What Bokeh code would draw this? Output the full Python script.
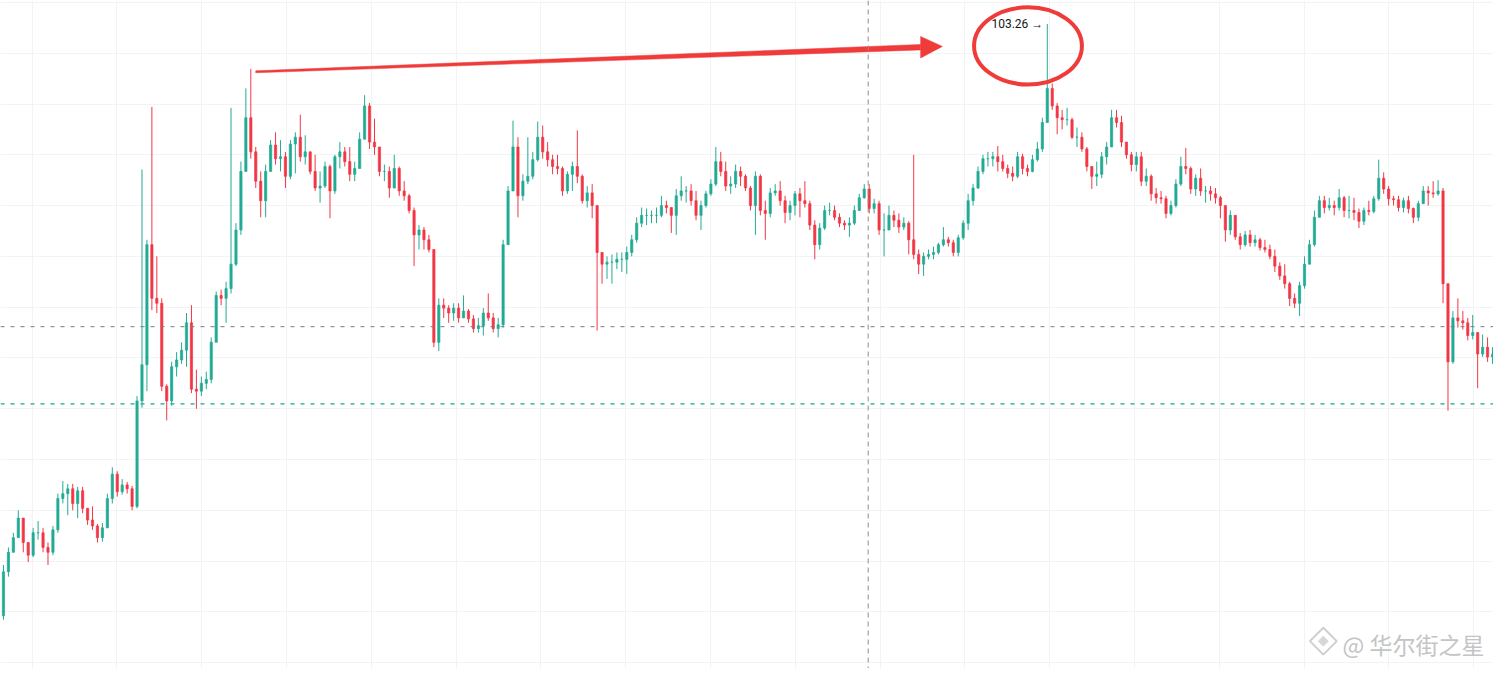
import numpy as np
from bokeh.plotting import figure
from bokeh.models import Range1d, Span, Label, Grid, FixedTicker, SingleIntervalTicker, ColumnDataSource
from bokeh.embed import file_html
from bokeh.resources import INLINE

# ---------------- data (prices) ----------------
first_open = 97.20

close = [
    97.65, 97.85, 98.00, 98.20, 97.95, 97.82, 98.05, 98.05, 97.90, 97.85,
    98.08, 98.40, 98.45, 98.50, 98.35, 98.48, 98.30, 98.18, 98.12, 98.00,
    98.10, 98.40, 98.65, 98.47, 98.54, 98.50, 98.32, 99.40, 99.77, 101.00,
    100.45, 100.40, 99.55, 99.40, 99.75, 99.82, 99.92, 100.20, 99.52, 99.50,
    99.58, 99.62, 100.00, 100.48, 100.45, 100.55, 100.80, 101.15, 101.75, 102.30,
    101.95, 101.65, 101.45, 101.75, 102.02, 101.88, 101.90, 101.70, 102.03, 102.10,
    101.90, 101.95, 101.75, 101.58, 101.60, 101.80, 101.55, 101.90, 101.95, 101.85,
    101.72, 101.78, 102.08, 102.42, 102.05, 102.00, 101.75, 101.75, 101.58, 101.78,
    101.55, 101.50, 101.35, 101.10, 101.15, 101.05, 100.95, 100.00, 100.38, 100.35,
    100.30, 100.35, 100.25, 100.32, 100.24, 100.14, 100.17, 100.30, 100.25, 100.14,
    100.18, 101.00, 101.55, 102.00, 101.50, 101.65, 101.70, 101.87, 102.10, 101.95,
    101.87, 101.80, 101.78, 101.55, 101.72, 101.80, 101.70, 101.45, 101.53, 101.40,
    100.92, 100.80, 100.82, 100.82, 100.85, 100.85, 100.92, 101.05, 101.22, 101.30,
    101.30, 101.30, 101.30, 101.40, 101.38, 101.30, 101.50, 101.55, 101.55, 101.45,
    101.30, 101.40, 101.52, 101.62, 101.85, 101.75, 101.60, 101.62, 101.75, 101.70,
    101.58, 101.40, 101.70, 101.35, 101.32, 101.53, 101.55, 101.45, 101.33, 101.40,
    101.52, 101.45, 101.42, 101.20, 101.00, 101.17, 101.35, 101.35, 101.28, 101.22,
    101.20, 101.22, 101.35, 101.48, 101.57, 101.37, 101.42, 101.15, 101.15, 101.30,
    101.25, 101.18, 101.22, 101.05, 100.90, 100.80, 100.88, 100.90, 100.92, 101.00,
    101.05, 101.02, 100.92, 101.07, 101.22, 101.45, 101.58, 101.75, 101.88, 101.88,
    101.90, 101.85, 101.78, 101.73, 101.70, 101.90, 101.78, 101.75, 101.87, 101.98,
    102.25, 102.60, 102.42, 102.30, 102.28, 102.28, 102.10, 102.10, 101.98, 101.80,
    101.70, 101.72, 101.90, 102.00, 102.30, 102.25, 102.05, 101.92, 101.82, 101.90,
    101.65, 101.70, 101.52, 101.48, 101.47, 101.32, 101.40, 101.62, 101.80, 101.78,
    101.57, 101.68, 101.55, 101.55, 101.52, 101.48, 101.40, 101.15, 101.30, 101.08,
    101.00, 101.10, 101.02, 101.05, 100.97, 100.95, 100.88, 100.78, 100.68, 100.60,
    100.45, 100.40, 100.58, 100.80, 101.00, 101.28, 101.45, 101.38, 101.40, 101.38,
    101.48, 101.35, 101.35, 101.33, 101.24, 101.35, 101.34, 101.47, 101.68, 101.57,
    101.47, 101.46, 101.38, 101.45, 101.37, 101.28, 101.42, 101.55, 101.53, 101.52,
    101.55, 100.60, 99.80, 100.25, 100.22, 100.20, 100.07, 100.10, 99.88, 99.95,
    99.85, 99.88,
]

high = [
    97.72, 97.90, 98.05, 98.28, 98.18, 97.95, 98.10, 98.17, 98.10, 97.95,
    98.12, 98.45, 98.58, 98.55, 98.55, 98.52, 98.52, 98.30, 98.32, 98.14,
    98.15, 98.45, 98.72, 98.68, 98.60, 98.57, 98.53, 99.45, 101.77, 101.05,
    102.41, 100.88, 100.45, 99.57, 99.80, 99.90, 100.00, 100.30, 100.38, 99.72,
    99.65, 99.70, 100.05, 100.52, 100.54, 100.62, 102.40, 101.22, 101.85, 102.60,
    102.80, 102.00, 101.75, 101.82, 102.07, 102.15, 102.07, 101.95, 102.07, 102.15,
    102.33, 102.12, 101.95, 101.92, 101.75, 101.85, 101.82, 101.92, 102.05, 102.00,
    102.00, 101.85, 102.15, 102.53, 102.45, 102.29, 102.00, 101.82, 101.80, 101.92,
    101.80, 101.65, 101.52, 101.38, 101.20, 101.18, 101.10, 100.95, 100.45, 100.45,
    100.38, 100.40, 100.40, 100.48, 100.34, 100.28, 100.25, 100.35, 100.50, 100.30,
    100.25, 101.05, 101.60, 102.27, 102.10, 101.72, 102.10, 101.95, 102.26, 102.22,
    102.05, 101.92, 101.92, 101.80, 101.75, 101.85, 102.17, 101.72, 101.60, 101.62,
    101.40, 100.85, 100.88, 100.90, 100.92, 100.92, 100.98, 101.10, 101.28, 101.38,
    101.37, 101.35, 101.38, 101.50, 101.45, 101.38, 101.57, 101.70, 101.60, 101.62,
    101.55, 101.45, 101.55, 101.67, 102.00, 101.95, 101.85, 101.70, 101.82, 101.80,
    101.72, 101.60, 101.75, 101.72, 101.45, 101.58, 101.62, 101.65, 101.50, 101.45,
    101.55, 101.58, 101.65, 101.45, 101.25, 101.22, 101.40, 101.43, 101.40, 101.32,
    101.25, 101.28, 101.40, 101.52, 101.62, 101.62, 101.47, 101.45, 101.32, 101.40,
    101.35, 101.32, 101.28, 101.24, 101.92, 100.95, 100.92, 100.95, 100.98, 101.02,
    101.18, 101.08, 101.05, 101.10, 101.25, 101.52, 101.62, 101.80, 101.92, 101.95,
    101.95, 102.01, 101.92, 101.82, 101.80, 101.95, 101.93, 101.82, 101.92, 102.05,
    102.30, 103.26, 102.65, 102.45, 102.38, 102.40, 102.30, 102.20, 102.15, 102.00,
    101.80, 101.85, 101.95, 102.05, 102.38, 102.38, 102.32, 102.05, 101.95, 101.95,
    101.95, 101.78, 101.72, 101.58, 101.55, 101.50, 101.45, 101.67, 101.90, 101.99,
    101.80, 101.72, 101.78, 101.60, 101.60, 101.58, 101.50, 101.40, 101.35, 101.30,
    101.12, 101.14, 101.15, 101.10, 101.07, 101.05, 101.00, 100.95, 100.82, 100.80,
    100.62, 100.50, 100.62, 100.88, 101.05, 101.35, 101.50, 101.50, 101.48, 101.45,
    101.57, 101.50, 101.50, 101.48, 101.37, 101.38, 101.45, 101.50, 101.87, 101.74,
    101.60, 101.50, 101.50, 101.48, 101.50, 101.38, 101.45, 101.60, 101.60, 101.65,
    101.66, 101.58, 100.60, 100.32, 100.45, 100.32, 100.25, 100.28, 100.10, 100.08,
    100.05, 99.95,
]

low = [
    97.16, 97.60, 97.85, 98.00, 97.85, 97.75, 97.80, 97.98, 97.85, 97.72,
    97.82, 98.05, 98.35, 98.23, 98.28, 98.20, 98.25, 98.13, 98.08, 97.95,
    97.96, 98.10, 98.35, 98.42, 98.44, 98.45, 98.28, 98.30, 99.33, 99.50,
    100.33, 100.30, 99.50, 99.20, 99.35, 99.65, 99.78, 99.75, 99.48, 99.32,
    99.45, 99.52, 99.58, 100.00, 100.38, 100.20, 100.50, 100.78, 101.10, 101.78,
    101.88, 101.58, 101.28, 101.28, 101.75, 101.82, 101.75, 101.58, 101.67, 101.73,
    101.85, 101.82, 101.72, 101.55, 101.43, 101.58, 101.27, 101.52, 101.78, 101.80,
    101.65, 101.65, 101.80, 102.10, 101.98, 101.92, 101.70, 101.65, 101.48, 101.58,
    101.50, 101.45, 101.32, 100.78, 100.95, 100.95, 100.92, 99.95, 99.91, 100.25,
    100.20, 100.22, 100.20, 100.25, 100.20, 100.10, 100.10, 100.07, 100.22, 100.10,
    100.05, 100.15, 101.00, 101.55, 101.28, 101.45, 101.62, 101.67, 101.85, 101.88,
    101.80, 101.72, 101.72, 101.50, 101.52, 101.55, 101.63, 101.42, 101.38, 101.27,
    100.12, 100.60, 100.65, 100.60, 100.75, 100.72, 100.70, 100.88, 101.02, 101.18,
    101.20, 101.22, 101.22, 101.28, 101.32, 101.12, 101.10, 101.45, 101.43, 101.40,
    101.25, 101.15, 101.38, 101.50, 101.60, 101.70, 101.55, 101.52, 101.58, 101.60,
    101.55, 101.35, 101.10, 101.30, 101.05, 101.28, 101.50, 101.40, 101.22, 101.25,
    101.30, 101.28, 101.38, 101.15, 100.85, 100.95, 101.15, 101.30, 101.25, 101.18,
    101.15, 101.08, 101.20, 101.35, 101.47, 101.32, 101.32, 101.10, 100.88, 101.15,
    101.18, 101.12, 101.15, 100.90, 100.85, 100.70, 100.68, 100.85, 100.85, 100.90,
    100.98, 100.98, 100.88, 100.88, 101.05, 101.15, 101.40, 101.57, 101.72, 101.80,
    101.80, 101.75, 101.75, 101.68, 101.65, 101.68, 101.72, 101.70, 101.74, 101.85,
    101.95, 102.25, 102.38, 102.13, 102.18, 102.22, 102.08, 102.00, 101.95, 101.75,
    101.57, 101.60, 101.68, 101.82, 102.02, 102.20, 102.00, 101.88, 101.75, 101.75,
    101.60, 101.60, 101.45, 101.42, 101.42, 101.27, 101.30, 101.38, 101.60, 101.72,
    101.52, 101.50, 101.50, 101.43, 101.45, 101.42, 101.27, 101.03, 101.10, 101.05,
    100.95, 100.98, 100.98, 100.98, 100.94, 100.92, 100.85, 100.72, 100.64, 100.55,
    100.37, 100.35, 100.27, 100.55, 100.82, 100.98, 101.28, 101.32, 101.35, 101.30,
    101.35, 101.28, 101.27, 101.25, 101.17, 101.20, 101.30, 101.32, 101.45, 101.52,
    101.40, 101.40, 101.34, 101.33, 101.32, 101.22, 101.24, 101.45, 101.40, 101.48,
    101.50, 100.40, 99.30, 99.78, 100.15, 100.13, 100.02, 100.03, 99.53, 99.85,
    99.80, 99.78,
]

level_upper = 100.16      # grey dashed horizontal line
level_lower = 99.37       # green dashed horizontal line
cursor_bar = 174.8        # vertical dashed cursor line (bar index)
arrow_from = (51.0, 102.77)
arrow_to = (189.8, 103.03)
ring_center = (207.1, 103.035)

# ---------------- styling ----------------
GREEN = "#22ab94"
RED = "#f23645"
MARK = "#f03b3b"
GRID = "#f2f3f5"

c = np.array(close)
o = np.concatenate([[first_open], c[:-1]])
h = np.maximum(np.array(high), np.maximum(o, c))
l = np.minimum(np.array(low), np.minimum(o, c))
xi = np.arange(len(c))
col = np.where(c >= o, GREEN, RED)
src = ColumnDataSource(dict(x=xi, h=h, l=l, top=np.maximum(o, c), bot=np.minimum(o, c), col=col))

p = figure(width=1493, height=668, x_range=Range1d(-0.6, 301.2), y_range=Range1d(96.66, 103.50),
           output_backend="svg", toolbar_location=None, x_axis_location=None, y_axis_location=None,
           min_border=0, background_fill_color="white", border_fill_color="white")
p.outline_line_color = None
p.grid.visible = False
p.add_layout(Grid(dimension=0, ticker=FixedTicker(ticks=[5.8 + 17.14 * j for j in range(18)]),
                  grid_line_color=GRID, grid_line_width=1), "center")
p.add_layout(Grid(dimension=1, ticker=SingleIntervalTicker(interval=0.52),
                  grid_line_color=GRID, grid_line_width=1), "center")

# reference lines
p.add_layout(Span(location=level_upper, dimension="width", line_color="#787b86", line_dash="4 6", line_width=1))
p.add_layout(Span(location=level_lower, dimension="width", line_color="#14a88c", line_dash="4 6", line_width=1.4))
p.add_layout(Span(location=cursor_bar, dimension="height", line_color="#8a8d96", line_dash="5 4", line_width=1))

# candles
p.segment(x0="x", y0="h", x1="x", y1="l", source=src, line_color="col", line_width=1)
p.vbar(x="x", width=0.45, top="top", bottom="bot", source=src, fill_color="col", line_color="col", line_width=0.7)

# red arrow annotation (tapered shaft + head)
x0, y0 = arrow_from
x1, y1 = arrow_to
head_len = 4.4
xb = x1 - head_len
yb = y0 + (y1 - y0) * (xb - x0) / (x1 - x0)
p.patch([x0, xb, xb, x0], [y0 - 0.01, yb - 0.028, yb + 0.028, y0 + 0.01], fill_color=MARK, line_color=MARK, line_width=0.5)
p.patch([xb, x1, xb], [yb - 0.11, y1, yb + 0.11], fill_color=MARK, line_color=MARK, line_width=0.5)

# red ring around the peak
p.ellipse(x=[ring_center[0]], y=[ring_center[1]], width=21.8, height=0.79,
          fill_color=None, line_color=MARK, line_width=4)

# peak price label
peak_i = int(np.argmax(h))
p.add_layout(Label(x=peak_i, y=float(h[peak_i]), x_offset=-4, text=f"{h[peak_i]:.2f} \u2192",
                   text_align="right", text_baseline="middle", text_font_size="12px",
                   text_font="Roboto", text_color="#131722"))

# watermark
p.scatter(x=[266.8], y=[96.94], marker="square", angle=np.pi / 4, size=19,
          fill_color=None, line_color="#cfcfcf", line_width=2)
p.scatter(x=[266.8], y=[96.94], marker="square", angle=np.pi / 4, size=7,
          fill_color="#d6d6d6", line_color="#d6d6d6")
p.add_layout(Label(x=1342, y=25, x_units="screen", y_units="screen", text="@ 华尔街之星",
                   text_baseline="middle", text_font_size="23px", text_font="Noto Sans CJK SC",
                   text_color="#c4c4c4"))

open("out.html", "w").write(file_html(p, INLINE, title="chart"))
